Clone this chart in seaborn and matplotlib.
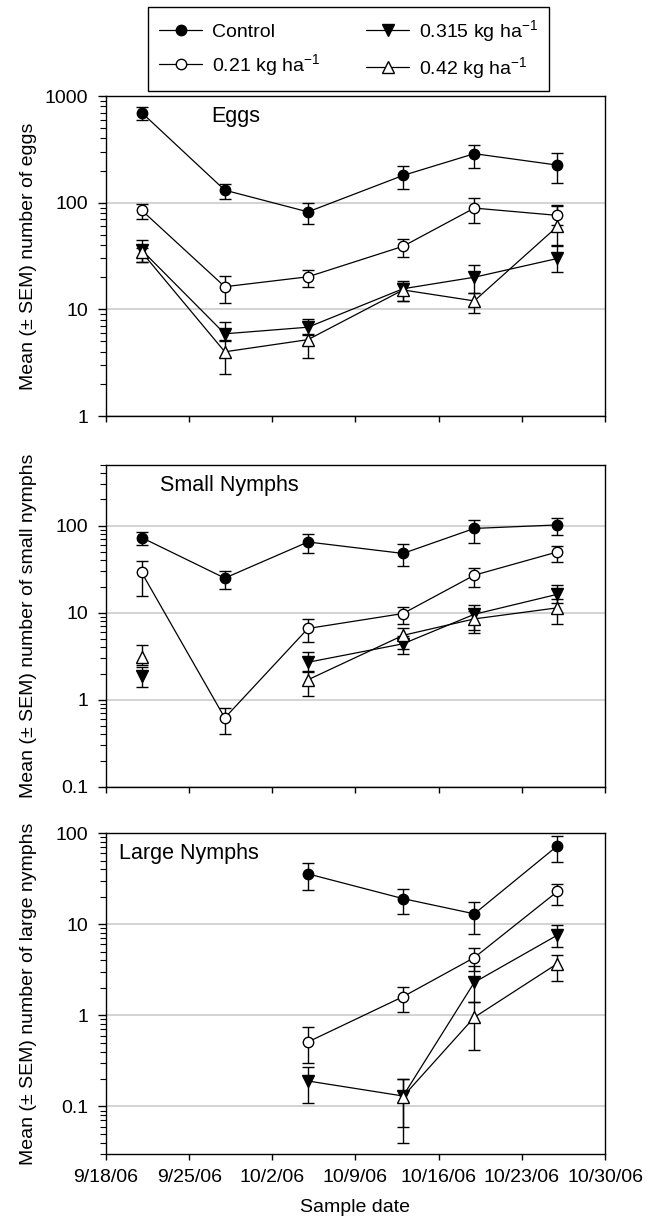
import numpy as np
import pandas as pd
import matplotlib
matplotlib.use("Agg")
import matplotlib.pyplot as plt
import matplotlib.dates as mdates
from matplotlib.ticker import FuncFormatter, LogLocator, NullFormatter
from matplotlib.lines import Line2D
import seaborn as sns

nan = np.nan

# sample dates and treatments
dates = pd.to_datetime(["2006-09-21", "2006-09-28", "2006-10-05",
                        "2006-10-13", "2006-10-19", "2006-10-26"])
treatments = ["Control", "0.21 kg ha$^{-1}$", "0.315 kg ha$^{-1}$", "0.42 kg ha$^{-1}$"]

# eggs (rows: Control, 0.21, 0.315, 0.42)
eggs_mean = [[700, 131, 82, 180, 288, 225],
             [85, 16.3, 20.2, 39, 89, 76],
             [36, 5.9, 6.8, 15.6, 20, 30],
             [34.5, 4.0, 5.2, 15.2, 12, 60]]
eggs_hi = [[795, 151, 100, 221, 350, 290],
           [97, 20.5, 23.2, 46, 111, 95],
           [45, 7.6, 8.1, 18.5, 25.8, 39],
           [38, 5.2, 5.8, 17.8, 14.1, 93]]
eggs_lo = [[596, 109, 63, 135, 211, 154],
           [70, 11.5, 16.3, 31, 64, 62],
           [28, 5.0, 5.9, 12.1, 14.3, 22.4],
           [27.6, 2.5, 3.5, 12, 9.3, 40]]

# small nymphs
small_mean = [[73, 25, 65, 48, 93, 102],
              [29, 0.62, 6.6, 9.8, 27, 50],
              [1.9, nan, 2.7, 4.4, 9.6, 16.3],
              [3.1, nan, 1.7, 5.5, 8.5, 11.4]]
small_hi = [[84, 30, 80, 61, 116, 121],
            [39, 0.8, 8.4, 11.6, 33, 59],
            [2.4, nan, 3.5, 5.4, 12.2, 20.7],
            [4.3, nan, 2.1, 6.7, 10.5, 14.3]]
small_lo = [[60, 18.6, 48, 34.5, 64, 79],
            [15.5, 0.41, 4.6, 7.5, 20, 38.7],
            [1.4, nan, 2.15, 3.4, 6.3, 13],
            [2.5, nan, 1.1, 3.8, 5.8, 7.5]]

# large nymphs
large_mean = [[nan, nan, 35.7, 19.1, 13, 72.6],
              [nan, nan, 0.51, 1.6, 4.3, 22.9],
              [nan, nan, 0.19, 0.13, 2.3, 7.6],
              [nan, nan, nan, 0.128, 0.95, 3.7]]
large_hi = [[nan, nan, 47.6, 24.4, 17.6, 91.9],
            [nan, nan, 0.74, 2.07, 5.5, 27.7],
            [nan, nan, 0.27, 0.2, 3.5, 9.8],
            [nan, nan, nan, 0.2, 1.4, 4.6]]
large_lo = [[nan, nan, 23.5, 13, 7.8, 48.4],
            [nan, nan, 0.3, 1.1, 3.1, 16.3],
            [nan, nan, 0.11, 0.06, 1.4, 5.6],
            [nan, nan, nan, 0.04, 0.42, 2.4]]

sns.set_style("ticks")
plt.rcParams["font.family"] = ["Liberation Sans", "DejaVu Sans"]
plt.rcParams["mathtext.fontset"] = "custom"
plt.rcParams["mathtext.rm"] = "Liberation Sans"
plt.rcParams["mathtext.default"] = "regular"
for key in ["text.color", "axes.labelcolor", "xtick.color", "ytick.color"]:
    plt.rcParams[key] = "black"

FS = 14
markers = ["o", "o", "v", "^"]
faces = ["black", "white", "black", "white"]
sizes = [7.5, 7.5, 8.5, 8.5]
draw_order = [0, 2, 1, 3]


def draw_panel(ax, means, his, los, ylim, ylabel, title, tx, ty):
    for i in draw_order:
        m = np.array(means[i], float)
        hi = np.array(his[i], float)
        lo = np.array(los[i], float)
        ok = ~np.isnan(m)
        idx = np.flatnonzero(ok)
        # break the line where a date has no data
        groups = np.split(idx, np.where(np.diff(idx) > 1)[0] + 1)
        ax.errorbar(dates[ok], m[ok], yerr=[m[ok] - lo[ok], hi[ok] - m[ok]],
                    fmt="none", ecolor="black", elinewidth=1.0,
                    capsize=4, capthick=1.0, zorder=3)
        for g in groups:
            sns.lineplot(x=dates[g], y=m[g], ax=ax, color="black", lw=0.9,
                         marker=markers[i], markersize=sizes[i],
                         markerfacecolor=faces[i], markeredgecolor="black",
                         markeredgewidth=1.0, errorbar=None, zorder=4)

    ax.set_yscale("log")
    ax.set_ylim(*ylim)
    ax.yaxis.set_major_locator(LogLocator(base=10))
    ax.yaxis.set_minor_locator(LogLocator(base=10, subs=np.arange(2, 10)))
    ax.yaxis.set_major_formatter(FuncFormatter(lambda v, _: f"{v:g}"))
    ax.yaxis.set_minor_formatter(NullFormatter())
    ax.yaxis.grid(True, which="major", color="#c8c8c8", lw=1.1)
    ax.set_axisbelow(True)

    ax.set_xlim(pd.Timestamp("2006-09-18"), pd.Timestamp("2006-10-30"))
    ax.set_xticks(pd.date_range("2006-09-18", "2006-10-30", freq="7D"))
    ax.xaxis.set_major_formatter(mdates.DateFormatter("%-m/%-d/%y"))

    ax.set_ylabel(ylabel, fontsize=FS)
    ax.set_xlabel("")
    ax.tick_params(axis="y", which="major", direction="out", length=6, width=1,
                   labelsize=FS, pad=7)
    ax.tick_params(axis="x", which="major", direction="out", length=4.5, width=1,
                   labelsize=FS, pad=6)
    ax.tick_params(which="minor", direction="out", length=4, width=0.8)
    for s in ax.spines.values():
        s.set_color("black")
        s.set_linewidth(1.0)
    ax.text(tx, ty, title, transform=ax.transAxes, fontsize=15.5,
            ha="left", va="center")


fig = plt.figure(figsize=(6.47, 12.2), dpi=100)
ax1 = fig.add_axes([0.1638, 0.659, 0.7713, 0.2623])
ax2 = fig.add_axes([0.1638, 0.355, 0.7713, 0.264])
ax3 = fig.add_axes([0.1638, 0.0541, 0.7713, 0.263])

draw_panel(ax1, eggs_mean, eggs_hi, eggs_lo, (1, 1000),
           "Mean (± SEM) number of eggs", "Eggs", 0.21, 0.935)
draw_panel(ax2, small_mean, small_hi, small_lo, (0.1, 500),
           "Mean (± SEM) number of small nymphs", "Small Nymphs", 0.108, 0.935)
draw_panel(ax3, large_mean, large_hi, large_lo, (0.03, 100),
           "Mean (± SEM) number of large nymphs", "Large Nymphs", 0.026, 0.935)

ax1.tick_params(labelbottom=False)
ax2.tick_params(labelbottom=False)
ax3.set_xlabel("Sample date", fontsize=FS, labelpad=10)
for ax in (ax1, ax2, ax3):
    ax.yaxis.set_label_coords(-0.138, 0.5)

handles = [Line2D([], [], color="black", lw=0.9, marker=markers[i],
                  markersize=sizes[i], markerfacecolor=faces[i],
                  markeredgecolor="black", markeredgewidth=1.0)
           for i in range(4)]
leg = fig.legend(handles, treatments, loc="upper center", ncol=2,
                 bbox_to_anchor=(0.5387, 0.994), fontsize=FS,
                 frameon=True, fancybox=False, edgecolor="black",
                 framealpha=1, handlelength=2.2, handletextpad=0.5,
                 columnspacing=2.4, borderpad=0.55, labelspacing=0.55,
                 borderaxespad=0)
leg.get_frame().set_linewidth(1.0)

fig.savefig("out.png", dpi=100)
